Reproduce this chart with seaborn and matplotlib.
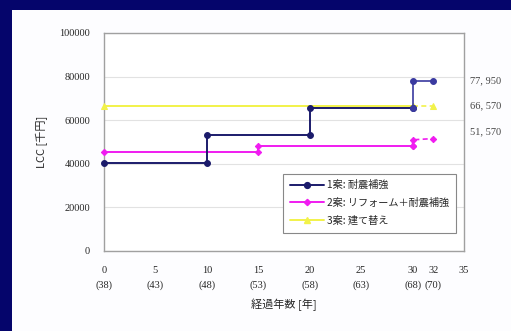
import matplotlib
matplotlib.use("Agg")
import matplotlib.pyplot as plt
import matplotlib.patches as mpatches
import seaborn as sns
import pandas as pd

# Step paths of life-cycle cost per plan (elapsed years, cost in thousand yen)
years_plan1 = [0, 10, 10, 20, 20, 30, 30, 32]
lcc_plan1 = [40500, 40500, 53000, 53000, 65500, 65500, 77950, 77950]

years_plan2 = [0, 15, 15, 30, 30, 32]
lcc_plan2 = [45200, 45200, 48000, 48000, 51000, 51570]

years_plan3 = [0, 30, 32]
lcc_plan3 = [66570, 66570, 66570]

plan_names = ["1案: 耐震補強", "2案: リフォーム＋耐震補強", "3案: 建て替え"]
final_labels = ["77, 950", "66, 570", "51, 570"]
final_values = [77950, 66570, 51570]

xtick_years = [0, 5, 10, 15, 20, 25, 30, 32, 35]
xtick_ages = ["(38)", "(43)", "(48)", "(53)", "(58)", "(63)", "(68)", "(70)", ""]
ytick_values = [0, 20000, 40000, 60000, 80000, 100000]

NAVY = "#1b1b6b"
MAGENTA = "#f01cf0"
YELLOW = "#f2f24a"
TEXT = "#262626"

sns.set_theme(style="white")
plt.rcParams["font.family"] = ["Noto Sans CJK JP", "DejaVu Sans"]

fig = plt.figure(figsize=(5.11, 3.31), dpi=100)
fig.patch.set_facecolor("#05056b")
fig.add_artist(mpatches.Rectangle((12 / 511, 0), 1 - 12 / 511, 1 - 10 / 331,
                                  transform=fig.transFigure, facecolor="#fdfdff",
                                  edgecolor="none", zorder=0))

ax = fig.add_axes([104 / 511, 1 - 251 / 331, 360 / 511, 218 / 331])
ax.set_facecolor("white")


def frame(xs, ys):
    return pd.DataFrame({"year": xs, "lcc": ys})


def draw(xs, ys, color, marker, ms, split, tail_style, tail_color):
    head = frame(xs[:split], ys[:split])
    tail = frame(xs[split - 1:], ys[split - 1:])
    sns.lineplot(data=head, x="year", y="lcc", sort=False, estimator=None,
                 color=color, lw=1.4, marker=marker, markersize=ms,
                 markeredgecolor=color, ax=ax, zorder=3, clip_on=False)
    sns.lineplot(data=tail, x="year", y="lcc", sort=False, estimator=None,
                 color=tail_color, lw=1.2, linestyle=tail_style, marker=marker,
                 markersize=ms, markeredgecolor=tail_color, ax=ax, zorder=3,
                 clip_on=False)


draw(years_plan3, lcc_plan3, YELLOW, "^", 4.5, 2, (0, (3, 2)), YELLOW)
draw(years_plan2, lcc_plan2, MAGENTA, "D", 3.2, 4, (0, (3, 2)), MAGENTA)
draw(years_plan1, lcc_plan1, NAVY, "o", 4.2, 6, "-", "#3a3aa0")

ax.set_xlim(0, 35)
ax.set_ylim(0, 100000)
ax.set_yticks(ytick_values)
ax.set_yticklabels([str(v) for v in ytick_values], fontsize=7.5, color=TEXT,
                   family="Liberation Serif")
ax.set_xticks(xtick_years)
ax.set_xticklabels([f"{y}\n{a}" for y, a in zip(xtick_years, xtick_ages)],
                   fontsize=7.5, color=TEXT, family="Liberation Serif",
                   linespacing=1.75)
ax.tick_params(axis="y", direction="in", length=3, color="#999999", pad=10)
ax.tick_params(axis="x", direction="in", length=3, color="#999999", pad=11)
ax.yaxis.grid(True, color="#e2e2e2", lw=0.8)
for s in ax.spines.values():
    s.set_color("#a0a0a0")
    s.set_linewidth(1.0)

ax.set_xlabel("経過年数 [年]", fontsize=8, color=TEXT, labelpad=6)
ax.set_ylabel("LCC [千円]", fontsize=8, color=TEXT, labelpad=8)

# Final cost values beside the right edge of the plot
label_offsets = [0, 0, 3000]
for text, val, off in zip(final_labels, final_values, label_offsets):
    ax.annotate(text, xy=(1.0, val + off), xycoords=("axes fraction", "data"),
                xytext=(4, 0), textcoords="offset points", fontsize=7.5,
                color="#444444", va="center", ha="left",
                family="Liberation Serif", annotation_clip=False)

handles = [
    plt.Line2D([], [], color=NAVY, marker="o", markersize=4.2, lw=1.4),
    plt.Line2D([], [], color=MAGENTA, marker="D", markersize=3.2, lw=1.4),
    plt.Line2D([], [], color=YELLOW, marker="^", markersize=4.5, lw=1.4),
]
leg = ax.legend(handles, plan_names, loc="upper left",
                bbox_to_anchor=(0.497, 0.355), borderaxespad=0,
                fontsize=7.3, frameon=True,
                fancybox=False, framealpha=1, edgecolor="#888888",
                handlelength=3.4, borderpad=0.65, labelspacing=0.75,
                handletextpad=0.3)
leg.get_frame().set_linewidth(0.8)
for t in leg.get_texts():
    t.set_color(TEXT)

fig.savefig("out.png", dpi=100, facecolor=fig.get_facecolor())
